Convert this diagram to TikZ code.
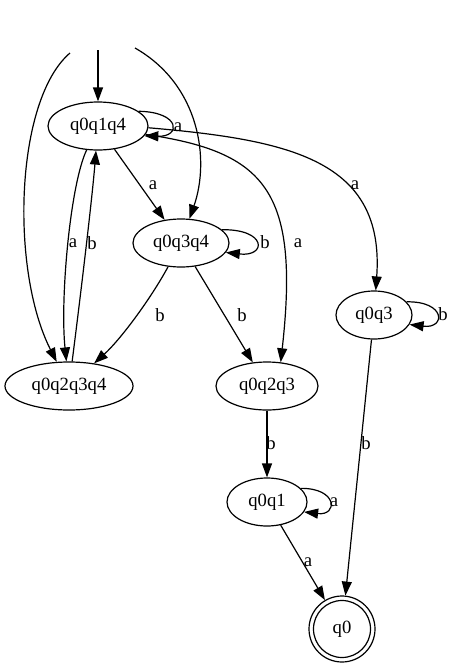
\documentclass[tikz,border=0pt]{standalone}
\usepackage{fontspec}
\setmainfont{Liberation Serif}
\usetikzlibrary{shapes.geometric,arrows.meta}
\begin{document}
\begin{tikzpicture}[x=0.75pt,y=-0.75pt,
  every node/.style={font=\fontsize{14pt}{16pt}\selectfont},
  st/.style={draw,ellipse,inner sep=0pt,line width=0.9pt,minimum height=36pt},
  lbl/.style={inner sep=0pt},
  tip/.style={-{Triangle[length=10.5pt,width=7.5pt]}},
  edge/.style={line width=0.9pt,tip},
  plain/.style={line width=0.9pt}]
\useasboundingbox (0,0) rectangle (455,664);
% states
\node[st,minimum width=75pt] (A) at (98,126) {q0q1q4};
\node[st,minimum width=72pt] (B) at (181,243) {q0q3q4};
\node[st,minimum width=96pt] (C) at (69,386) {q0q2q3q4};
\node[st,minimum width=76.5pt] (D) at (267,386) {q0q2q3};
\node[st,minimum width=57pt] (E) at (374,315) {q0q3};
\node[st,minimum width=60pt] (F) at (267,502) {q0q1};
\node[draw,circle,inner sep=0pt,line width=0.9pt,minimum size=49.5pt] (G) at (342,629) {q0};
\draw[plain] (G.center) circle (28.5);
% start edges
\coordinate (s1) at (70,53);
\coordinate (s2) at (98,50);
\coordinate (s3) at (135,48);
\draw[edge] (s2) -- (A);
\draw[edge] (s1) .. controls (15,100) and (10,270) .. (C);
\draw[edge] (s3) .. controls (200,85) and (210,160) .. (B);
% transitions
\draw[edge] (A.20) .. controls (181,112) and (181,137) .. (A.-12);
\node[lbl] (la1) at (178,127) {a};
\draw[edge] (A) -- (B);
\node[lbl] (la2) at (153,185) {a};
\draw[edge] (A) .. controls (70,185) and (60,300) .. (C);
\node[lbl] (la3) at (73,243) {a};
\draw[edge] (C) .. controls (80,300) and (92,200) .. (A);
\node[lbl] (lb1) at (92,243) {b};
\draw[edge] (B.18) .. controls (267,229) and (267,257) .. (B.-12);
\node[lbl] (lb2) at (265,242) {b};
\draw[edge] (A.-10) .. controls (265,152) and (300,190) .. (D.60);
\node[lbl] (la4) at (298,243) {a};
\draw[edge] (A.-2) .. controls (290,140) and (385,160) .. (E);
\node[lbl] (la5) at (355,185) {a};
\draw[edge] (B) .. controls (150,300) and (120,340) .. (C);
\node[lbl] (lb3) at (160,315) {b};
\draw[edge] (B) -- (D);
\node[lbl] (lb4) at (242,315) {b};
\draw[edge] (E.22) .. controls (446,301) and (446,329) .. (E.-15);
\node[lbl] (lb5) at (443,314) {b};
\draw[edge] (D) -- (F);
\node[lbl] (lb6) at (271,443) {b};
\draw[edge] (E) -- (G);
\node[lbl] (lb7) at (366,443) {b};
\draw[edge] (F.22) .. controls (338,488) and (338,516) .. (F.-15);
\node[lbl] (la6) at (334,502) {a};
\draw[edge] (F) -- (G);
\node[lbl] (la7) at (308,562) {a};
\end{tikzpicture}
\end{document}
